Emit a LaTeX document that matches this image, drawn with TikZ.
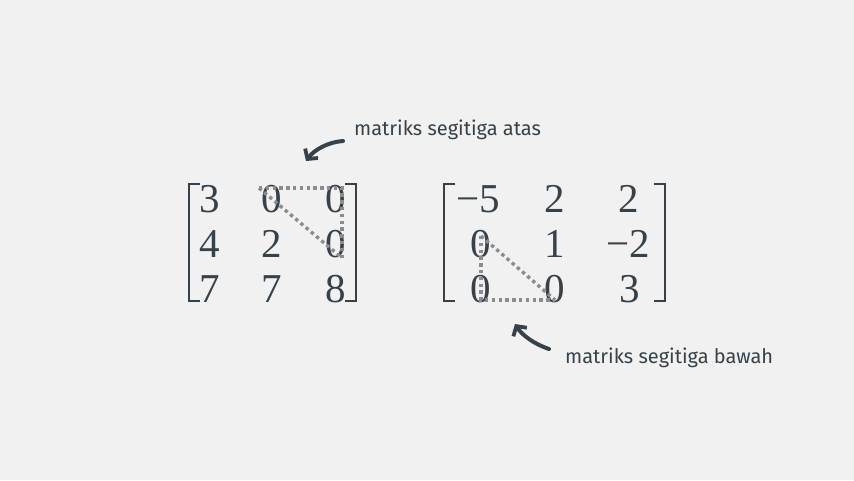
\documentclass[tikz,border=0pt]{standalone}
\usepackage{fontspec}
\setmainfont{Liberation Serif}
\newfontfamily\handfont{Fira Sans}
\usetikzlibrary{arrows.meta}
\definecolor{ink}{HTML}{36414A}
\definecolor{dotc}{HTML}{8A8C90}
\definecolor{paper}{HTML}{F1F1F1}
\tikzset{
  entry/.style={text=ink, inner sep=0pt, font=\fontsize{41}{46}\selectfont, anchor=center},
  brk/.style={draw=ink, line width=2.8pt},
  dotln/.style={draw=dotc, line width=3.4pt, dash pattern=on 3.4pt off 3.4pt},
  lbl/.style={text=ink, font=\handfont\fontsize{20}{23}\selectfont, anchor=west, inner sep=0pt},
  curarrow/.style={draw=ink, line width=4pt, line cap=round, -{Straight Barb[length=7pt,width=16pt,line width=3.8pt]}}
}
\begin{document}
\begin{tikzpicture}[x=1pt,y=-1pt]
\useasboundingbox (0,0) rectangle (854,480);
\fill[paper] (0,0) rectangle (854,480);
% left matrix
\draw[brk] (200,184) -- (189,184) -- (189,301) -- (200,301);
\draw[brk] (345,184) -- (356,184) -- (356,301) -- (345,301);
\node[entry] (a11) at (210,199) {3};
\node[entry] (a12) at (272,199) {0};
\node[entry] (a13) at (336,199) {0};
\node[entry] (a21) at (210,244) {4};
\node[entry] (a22) at (272,244) {2};
\node[entry] (a23) at (336,244) {0};
\node[entry] (a31) at (210,289) {7};
\node[entry] (a32) at (272,289) {7};
\node[entry] (a33) at (336,289) {8};
\coordinate (u1) at (259,188);
\coordinate (u2) at (342,188);
\coordinate (u3) at (342,258);
\draw[dotln] (u1) -- (u2) -- (u3);
\draw[dotln] (u1) -- (u3);
% right matrix
\draw[brk] (455,184) -- (444,184) -- (444,301) -- (455,301);
\draw[brk] (654,184) -- (665,184) -- (665,301) -- (654,301);
\node[entry] (b11) at (478,199) {−5};
\node[entry] (b12) at (555,199) {2};
\node[entry] (b13) at (629,199) {2};
\node[entry] (b21) at (481,244) {0};
\node[entry] (b22) at (555,244) {1};
\node[entry] (b23) at (628,244) {−2};
\node[entry] (b31) at (481,289) {0};
\node[entry] (b32) at (555,289) {0};
\node[entry] (b33) at (630,289) {3};
\coordinate (l1) at (481,236);
\coordinate (l2) at (481,300);
\coordinate (l3) at (555,300);
\draw[dotln] (l1) -- (l2) -- (l3);
\draw[dotln] (l1) -- (l3);
% labels
\node[lbl] (ta) at (354,130) {matriks segitiga atas};
\node[lbl] (tb) at (565,358) {matriks segitiga bawah};
\coordinate (ta0) at (343,141);
\coordinate (ta1) at (306,161);
\coordinate (tb0) at (549,349);
\coordinate (tb1) at (515,324);
\draw[curarrow] (ta0) .. controls (328,142) and (314,150) .. (ta1);
\draw[curarrow] (tb0) .. controls (534,344) and (522,335) .. (tb1);
\end{tikzpicture}
\end{document}
